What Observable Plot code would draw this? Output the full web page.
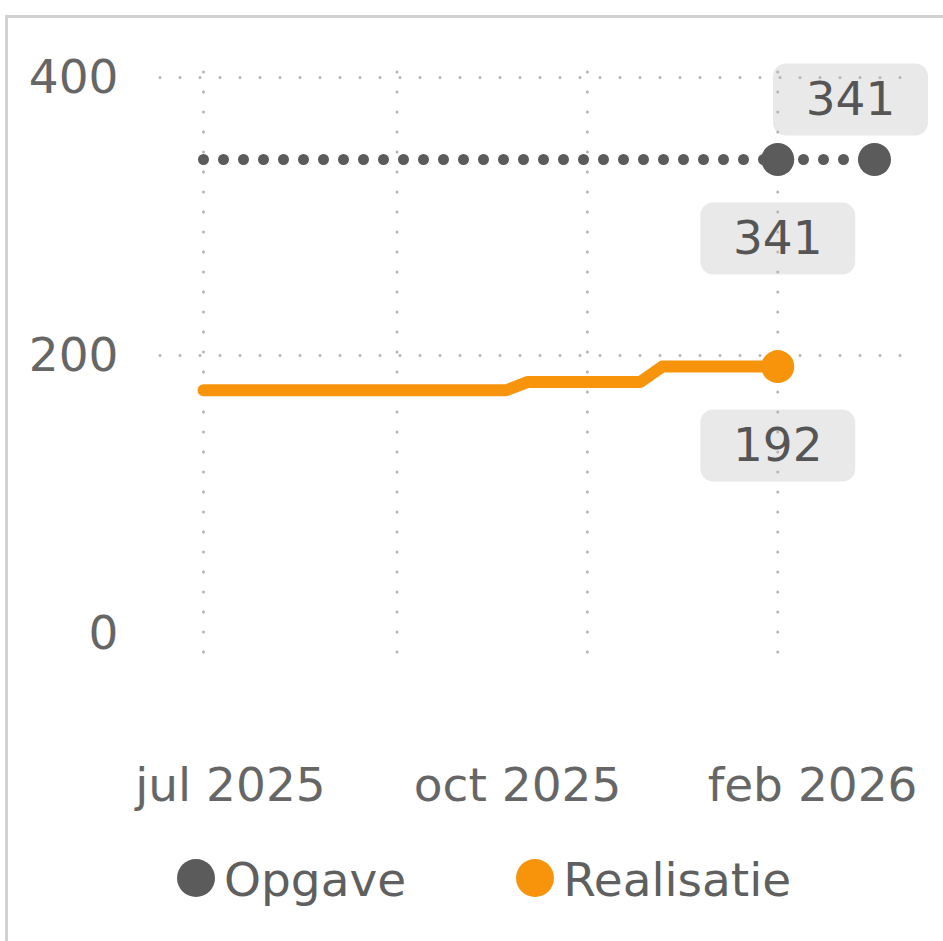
<!DOCTYPE html>
<html><head><meta charset="utf-8">
<script src="https://cdn.jsdelivr.net/npm/d3@7"></script>
<script src="https://cdn.jsdelivr.net/npm/@observablehq/plot@0.6"></script>
<style>
html,body{margin:0;padding:0;background:#fff;overflow:hidden;width:943px;height:941px;}
body{position:relative;font-family:"DejaVu Sans",sans-serif;}
#frame{position:absolute;left:5px;top:15px;width:1200px;height:1200px;border-left:3px solid #d2d2d2;border-top:3px solid #d2d2d2;}
#chart{position:absolute;left:0;top:0;}
#legend{position:absolute;left:177px;top:855px;display:flex;align-items:center;height:46px;}
.item{display:flex;align-items:center;margin-right:110px;}
.sw{width:38px;height:38px;border-radius:50%;display:inline-block;}
.lab{font-size:47px;line-height:46px;color:#5f5f5f;margin-left:9px;position:relative;top:2px;white-space:nowrap;}
</style></head><body>
<div id="frame"></div>
<div id="chart"></div>
<div id="legend"></div>
<script>
// ---- data ----
const series = ["Opgave", "Realisatie"];
const seriesColors = ["#5b5b5b", "#f7940c"];
const opgaveDates = ["2025-07-01", "2026-01-01", "2026-02-01"];
const opgaveValues = [341, 341, 341];
const realisatieDates = ["2025-07-01", "2025-10-06", "2025-10-13", "2025-11-18", "2025-11-25", "2026-01-01"];
const realisatieValues = [175, 175, 181, 181, 192, 192];
const yTicks = [0, 200, 400];
const yGridValues = [200, 400];
const xGridDates = ["2025-07-01", "2025-09-01", "2025-11-01", "2026-01-01"];
const xTickDates = ["2025-07-01", "2025-10-01", "2026-02-01"];
const xTickLabels = ["jul 2025", "oct 2025", "feb 2026"];
const endSeries = ["Opgave", "Opgave", "Realisatie"];
const endDates = ["2026-02-01", "2026-01-01", "2026-01-01"];
const endValues = [341, 341, 192];

// ---- build tables ----
const P = d3.isoParse;
const opgave = opgaveDates.map((d, i) => ({date: P(d), value: opgaveValues[i], series: "Opgave"}));
const realisatie = realisatieDates.map((d, i) => ({date: P(d), value: realisatieValues[i], series: "Realisatie"}));
const ends = endDates.map((d, i) => ({date: P(d), value: endValues[i], series: endSeries[i]}));
const labelsAbove = ends.slice(0, 1);
const labelsBelow = ends.slice(1);
const xTicks = xTickDates.map((d, i) => ({date: P(d), label: xTickLabels[i]}));
const gridDates = xGridDates.map(P);

const roundBox = {
  draw(ctx) {
    const w = 155, h = 72, r = 13;
    const x0 = -w / 2, y0 = -h / 2, x1 = w / 2, y1 = h / 2;
    ctx.moveTo(x0 + r, y0);
    ctx.lineTo(x1 - r, y0); ctx.arcTo(x1, y0, x1, y0 + r, r);
    ctx.lineTo(x1, y1 - r); ctx.arcTo(x1, y1, x1 - r, y1, r);
    ctx.lineTo(x0 + r, y1); ctx.arcTo(x0, y1, x0, y1 - r, r);
    ctx.lineTo(x0, y0 + r); ctx.arcTo(x0, y0, x0 + r, y0, r);
    ctx.closePath();
  }
};

const gridStyle = {stroke: "#b5b5b5", strokeWidth: 3, strokeDasharray: "0 20", strokeLinecap: "round"};
const font = "DejaVu Sans";
const fs = 47;

const chart = Plot.plot({
  width: 943, height: 830,
  marginTop: 77, marginBottom: 197, marginLeft: 160, marginRight: 40,
  style: {fontFamily: font, fontSize: fs + "px", background: "transparent", overflow: "visible"},
  x: {type: "utc", domain: [P(opgaveDates[0]), P(opgaveDates[2])], insetLeft: 43, insetRight: 29, axis: null},
  y: {domain: [0, 400], axis: null},
  color: {domain: series, range: seriesColors},
  marks: [
    Plot.dot(labelsAbove, {x: "date", y: "value", dx: -24, dy: -60, symbol: roundBox, r: 1, fill: "#e9e9e9", stroke: "none"}),
    Plot.dot(labelsBelow, {x: "date", y: "value", dy: 79, symbol: roundBox, r: 1, fill: "#e9e9e9", stroke: "none"}),
    Plot.ruleY(yGridValues, gridStyle),
    Plot.ruleX(gridDates, {...gridStyle, insetBottom: -22, insetTop: -5}),
    Plot.axisY({ticks: yTicks, tickSize: 0, tickPadding: 42, fontSize: fs, color: "#666", label: null, fontFamily: font}),
    Plot.line(opgave, {x: "date", y: "value", stroke: "series", strokeWidth: 11, strokeDasharray: "0 20", strokeLinecap: "round"}),
    Plot.line(realisatie, {x: "date", y: "value", stroke: "series", strokeWidth: 12, strokeLinecap: "round", strokeLinejoin: "round"}),
    Plot.dot(ends, {x: "date", y: "value", r: 16.5, fill: "series", stroke: "none"}),
    Plot.text(labelsAbove, {x: "date", y: "value", dx: -24, dy: -60, text: d => String(d.value), fill: "#555", fontSize: fs, fontFamily: font}),
    Plot.text(labelsBelow, {x: "date", y: "value", dy: 79, text: d => String(d.value), fill: "#555", fontSize: fs, fontFamily: font}),
    Plot.text(xTicks.slice(0, 2), {x: "date", text: "label", frameAnchor: "bottom", lineAnchor: "middle", dy: 152, dx: 27, fill: "#666", fontSize: fs, fontFamily: font}),
    Plot.text(xTicks.slice(2), {x: "date", text: "label", frameAnchor: "bottom", lineAnchor: "middle", dy: 152, dx: 43, textAnchor: "end", fill: "#666", fontSize: fs, fontFamily: font})
  ]
});
document.getElementById("chart").appendChild(chart);

// ---- legend ----
const legend = document.getElementById("legend");
series.forEach((s, i) => {
  const item = document.createElement("div");
  item.className = "item";
  const sw = document.createElement("span");
  sw.className = "sw";
  sw.style.background = seriesColors[i];
  const lab = document.createElement("span");
  lab.className = "lab";
  lab.textContent = s;
  item.appendChild(sw); item.appendChild(lab);
  legend.appendChild(item);
});
</script>
</body></html>
